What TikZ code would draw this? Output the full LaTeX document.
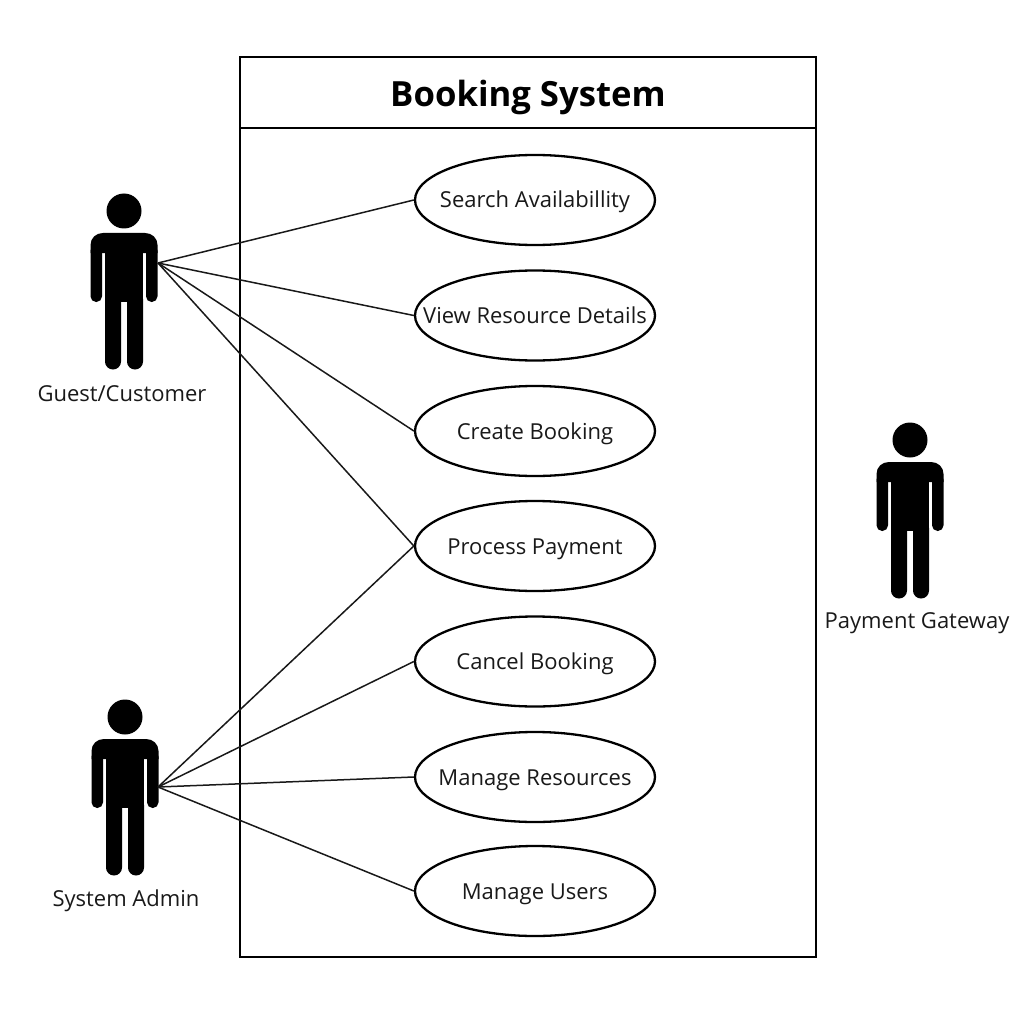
\documentclass[tikz,border=0pt]{standalone}
\usepackage{fontspec}
\setmainfont{Open Sans}
\usetikzlibrary{shapes.geometric}
\newcommand{\uctext}[1]{\makebox[0pt][c]{#1}}
\tikzset{
  x=1pt,y=-1pt,
  usecase/.style={draw,ellipse,line width=2.3pt,minimum width=240pt,minimum height=90pt,inner sep=0pt,fill=white,text height=20pt,text depth=4pt,font=\fontsize{22}{26}\selectfont,text=black!90},
  actorlabel/.style={anchor=base,font=\fontsize{22}{26}\selectfont,text=black!90,inner sep=0pt},
  assoc/.style={line width=1.5pt,black!90},
  frame/.style={draw,line width=2.3pt},
  actor/.pic={
    \fill[black] (0,0) circle[radius=17.5];
    \fill[black] (-33.5,42) -- (-33.5,34) .. controls (-33.5,27) and (-28,22) .. (-21,22)
      -- (21,22) .. controls (28,22) and (33.5,27) .. (33.5,34) -- (33.5,42) -- cycle;
    \fill[black,rounded corners=5.6pt] (-33.5,34) rectangle (-22,91);
    \fill[black,rounded corners=5.6pt] (22,34) rectangle (33.5,91);
    \fill[black] (-19,30) rectangle (19,91);
    \fill[black,rounded corners=7.9pt] (-19,80) rectangle (-3,158.5);
    \fill[black,rounded corners=7.9pt] (3,80) rectangle (19,158.5);
  }
}
\begin{document}
\begin{tikzpicture}
\useasboundingbox (0,0) rectangle (1024,1024);
\node[frame,minimum width=576pt,minimum height=900pt,inner sep=0pt] (sys) at (528,507) {};
\node[frame,minimum width=576pt,minimum height=71pt,inner sep=0pt,text height=34pt,text depth=5pt,font=\fontsize{34.7}{40}\selectfont\bfseries] (head) at (528,92.5) {Booking System};
\pic (guest) at (124,211) {actor};
\pic (admin) at (125,717) {actor};
\pic (gateway) at (910,440) {actor};
\coordinate (guestport) at (158,263);
\coordinate (adminport) at (158,787);
\node[actorlabel] (lguest) at (122,401.5) {Guest/Customer};
\node[actorlabel] (ladmin) at (126,906.5) {System Admin};
\node[actorlabel] (lgate) at (917,628.5) {Payment Gateway};
\node[usecase] (u1) at (535,200) {\uctext{Search Availabillity}};
\node[usecase] (u2) at (535,315.5) {\uctext{View Resource Details}};
\node[usecase] (u3) at (535,431) {\uctext{Create Booking}};
\node[usecase] (u4) at (535,546) {\uctext{Process Payment}};
\node[usecase] (u5) at (535,661.5) {\uctext{Cancel Booking}};
\node[usecase] (u6) at (535,777) {\uctext{Manage Resources}};
\node[usecase] (u7) at (535,891) {\uctext{Manage Users}};
\foreach \u in {u1,u2,u3,u4} \draw[assoc] (guestport) -- (\u.west);
\foreach \u in {u4,u5,u6,u7} \draw[assoc] (adminport) -- (\u.west);
\end{tikzpicture}
\end{document}
